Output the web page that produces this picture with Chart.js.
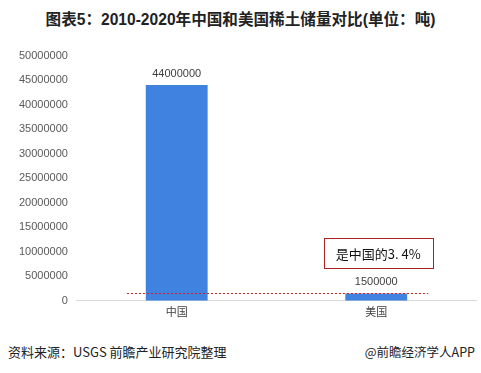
<!DOCTYPE html>
<html><head><meta charset="utf-8">
<script src="https://cdn.jsdelivr.net/npm/chart.js@4.4.0/dist/chart.umd.min.js"></script>
<style>
html,body{margin:0;padding:0;background:#fff;width:481px;height:373px;overflow:hidden;font-family:"Noto Sans CJK SC","Liberation Sans",sans-serif;}
#title{position:absolute;left:0;top:7px;width:481px;text-align:center;font-size:15.6px;font-weight:bold;color:#222;font-family:"Liberation Sans","Noto Sans CJK SC",sans-serif;}
#wrap{position:absolute;left:0;top:40px;width:481px;height:285px;}
#src{position:absolute;left:8px;top:342px;font-size:13px;color:#222;}
#app{position:absolute;right:6px;top:342px;font-size:12.5px;color:#222;}
</style></head><body>
<div id="title">图表5：2010-2020年中国和美国稀土储量对比(单位：吨)</div>
<div id="wrap"><canvas id="c"></canvas></div>
<div id="src">资料来源：USGS 前瞻产业研究院整理</div>
<div id="app">@前瞻经济学人APP</div>
<script>
const categories = ["中国", "美国"];
const reserves = [44000000, 1500000];
const yTicks = [0,5000000,10000000,15000000,20000000,25000000,30000000,35000000,40000000,45000000,50000000];
const refValue = 1500000;
const noteText = "是中国的3. 4%";

const overlay = {
  id: 'overlay',
  afterDatasetsDraw(chart) {
    const ctx = chart.ctx;
    const y = chart.scales.y;
    const x = chart.scales.x;
    const meta = chart.getDatasetMeta(0);
    ctx.save();
    ctx.font = '11px "Liberation Sans", sans-serif';
    ctx.fillStyle = '#404040';
    ctx.textAlign = 'center';
    ctx.textBaseline = 'bottom';
    meta.data.forEach((bar, i) => {
      ctx.fillText(String(reserves[i]), bar.x, bar.y - 6);
    });
    // dashed reference line
    const ly = Math.round(y.getPixelForValue(refValue)) + 0.5;
    ctx.strokeStyle = '#d42020';
    ctx.lineWidth = 1;
    ctx.setLineDash([2, 2]);
    ctx.beginPath();
    ctx.moveTo(chart.chartArea.left + 50, ly);
    ctx.lineTo(x.getPixelForValue(1) + 52, ly);
    ctx.stroke();
    ctx.setLineDash([]);
    // note box
    const cx = x.getPixelForValue(1) + 2;
    const bw = 109, bh = 30;
    const by = Math.round(ly - 56);
    ctx.fillStyle = '#fff';
    ctx.fillRect(cx - bw/2, by, bw, bh);
    ctx.strokeStyle = '#b02020';
    ctx.strokeRect(Math.round(cx - bw/2) + 0.5, by + 0.5, bw, bh);
    ctx.fillStyle = '#111';
    ctx.font = '13px "Noto Sans CJK SC", sans-serif';
    ctx.textBaseline = 'middle';
    ctx.fillText(noteText, cx, by + bh/2 + 1);
    ctx.restore();
  }
};

new Chart(document.getElementById('c'), {
  type: 'bar',
  data: {
    labels: categories,
    datasets: [{
      data: reserves,
      backgroundColor: '#3f82e0',
      barPercentage: 0.31,
      categoryPercentage: 1.0
    }]
  },
  options: {
    responsive: true,
    maintainAspectRatio: false,
    animation: false,
    layout: { padding: { top: 13, right: 5, left: 10, bottom: 3 } },
    plugins: { legend: { display: false }, tooltip: { enabled: false } },
    scales: {
      x: {
        grid: { display: false, drawTicks: false },
        border: { color: '#d9d9d9' },
        ticks: { color: '#404040', font: { size: 11, family: '"Noto Sans CJK SC", sans-serif' }, padding: 4 }
      },
      y: {
        min: 0, max: 50000000,
        afterBuildTicks(scale) { scale.ticks = yTicks.map(v => ({ value: v })); },
        grid: { display: false, drawTicks: false },
        border: { display: false },
        ticks: {
          color: '#595959',
          font: { size: 11, family: '"Liberation Sans", sans-serif' },
          padding: 9,
          callback: v => String(v)
        }
      }
    }
  },
  plugins: [overlay]
});
</script>
</body></html>
